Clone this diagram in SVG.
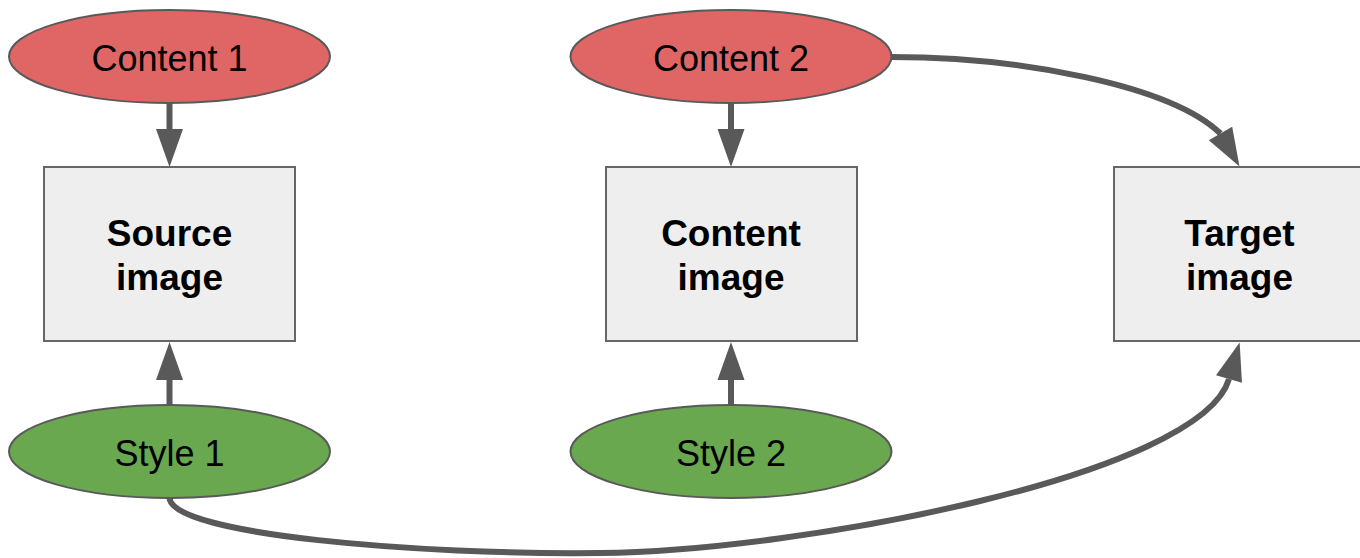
<svg xmlns="http://www.w3.org/2000/svg" width="1360" height="558" viewBox="0 0 1360 558">
  <style>
    .ell-red { fill: #e06666; stroke: #595959; stroke-width: 2; }
    .ell-green { fill: #6aa84f; stroke: #595959; stroke-width: 2; }
    .box { fill: #eeeeee; stroke: #666666; stroke-width: 2; }
    .lbl { font-family: "Liberation Sans", Arial, sans-serif; font-size: 36px; fill: #000; text-anchor: middle; }
    .bold { font-weight: bold; font-size: 37px; }
    .conn { fill: none; stroke: #595959; stroke-width: 6; }
  </style>
  <defs>
    <marker id="arrow" markerUnits="userSpaceOnUse" markerWidth="40" markerHeight="28" refX="0" refY="13.5" orient="auto" overflow="visible">
      <path d="M0,0 L38,13.5 L0,27 Z" fill="#595959"/>
    </marker>
    <marker id="arrow-top" markerUnits="userSpaceOnUse" markerWidth="40" markerHeight="28" refX="0" refY="13.5" orient="60" overflow="visible">
      <path d="M0,0 L38,13.5 L0,27 Z" fill="#595959"/>
    </marker>
  </defs>

  <g id="connectors">
    <path class="conn" d="M169.5,103 L169.5,129" marker-end="url(#arrow)"/>
    <path class="conn" d="M169.5,405 L169.5,380" marker-end="url(#arrow)"/>
    <path class="conn" d="M731,103 L731,129" marker-end="url(#arrow)"/>
    <path class="conn" d="M731,405 L731,380" marker-end="url(#arrow)"/>
    <path class="conn" d="M891,57 C1020,57 1170,85 1220.5,133.5" marker-end="url(#arrow-top)"/>
    <path class="conn" d="M169.5,498 C172,535 420,555 600,553 C800,551 1201,475 1229,379" marker-end="url(#arrow)"/>
  </g>

  <g id="content1">
    <ellipse class="ell-red" cx="169.5" cy="56.5" rx="160.5" ry="46.5"/>
    <text class="lbl" x="169.5" y="71">Content 1</text>
  </g>
  <g id="content2">
    <ellipse class="ell-red" cx="731" cy="56.5" rx="160.5" ry="46.5"/>
    <text class="lbl" x="731" y="71">Content 2</text>
  </g>
  <g id="source-image">
    <rect class="box" x="44" y="167" width="251" height="174"/>
    <text class="lbl bold" x="169.5" y="246">Source</text>
    <text class="lbl bold" x="169.5" y="290">image</text>
  </g>
  <g id="content-image">
    <rect class="box" x="606" y="167" width="251" height="174"/>
    <text class="lbl bold" x="731" y="246">Content</text>
    <text class="lbl bold" x="731" y="290">image</text>
  </g>
  <g id="target-image">
    <rect class="box" x="1114" y="167" width="251" height="174"/>
    <text class="lbl bold" x="1239.5" y="246">Target</text>
    <text class="lbl bold" x="1239.5" y="290">image</text>
  </g>
  <g id="style1">
    <ellipse class="ell-green" cx="169.5" cy="451.5" rx="160.5" ry="46.5"/>
    <text class="lbl" x="169.5" y="466">Style 1</text>
  </g>
  <g id="style2">
    <ellipse class="ell-green" cx="731" cy="451.5" rx="160.5" ry="46.5"/>
    <text class="lbl" x="731" y="466">Style 2</text>
  </g>
</svg>
